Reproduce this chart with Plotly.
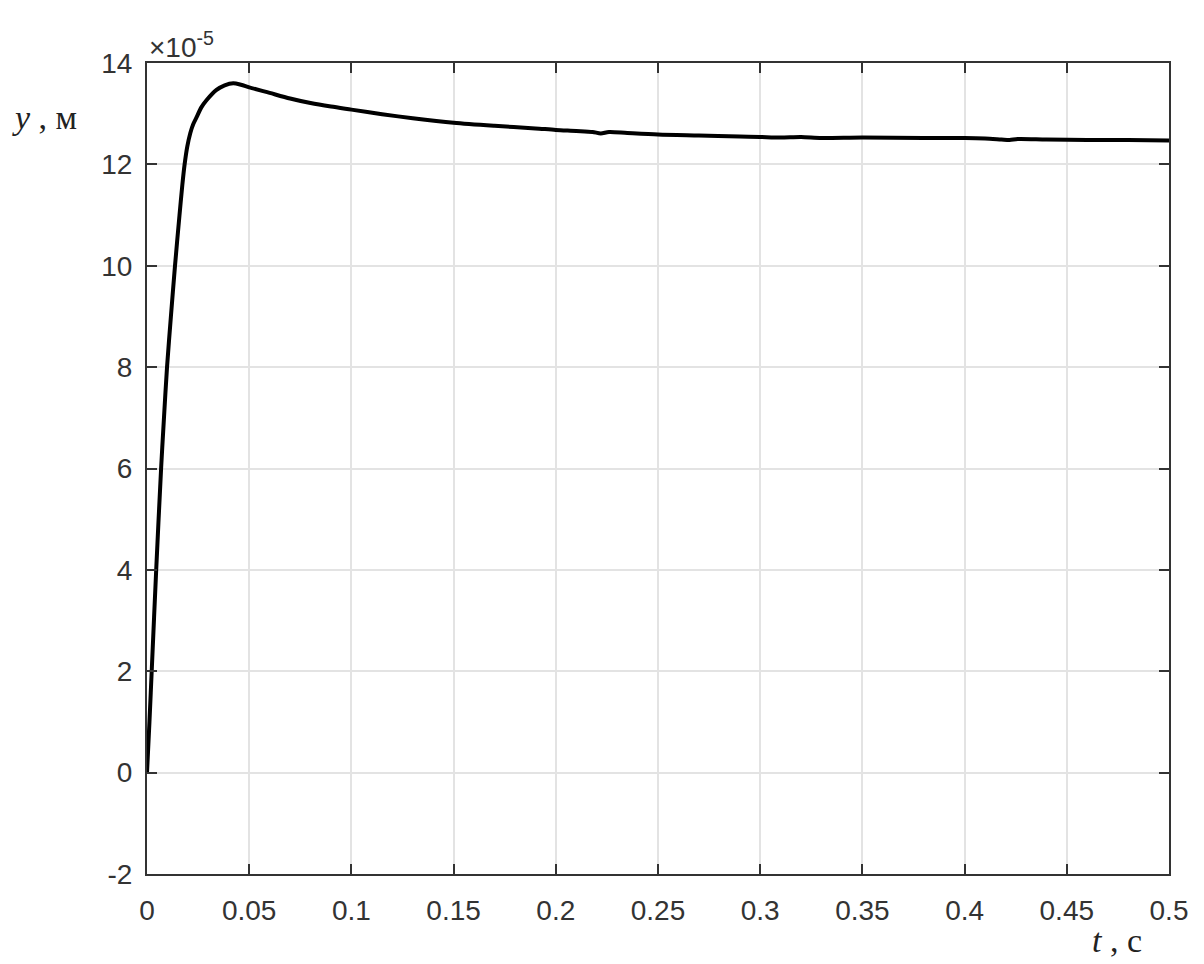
import plotly.graph_objects as go

# time, s
t = [0, 0.0012, 0.0023, 0.0045, 0.0069, 0.0083, 0.0098, 0.0117, 0.0137, 0.0159,
     0.0173, 0.0184, 0.0197, 0.0212, 0.0227, 0.0244, 0.0265, 0.0292, 0.034, 0.038,
     0.0422, 0.046, 0.05, 0.06, 0.07, 0.08, 0.09, 0.1, 0.115, 0.13,
     0.15, 0.17, 0.19, 0.2, 0.21, 0.218, 0.222, 0.226, 0.235, 0.25,
     0.27, 0.29, 0.3, 0.31, 0.32, 0.33, 0.35, 0.38, 0.4, 0.41,
     0.418, 0.422, 0.426, 0.44, 0.46, 0.48, 0.5]
# displacement, x1e-5 m
y = [0, 1.0, 2.0, 4.0, 6.0, 7.0, 8.0, 9.0, 10.0, 11.0,
     11.6, 12.0, 12.35, 12.62, 12.80, 12.94, 13.12, 13.27, 13.47, 13.56,
     13.60, 13.57, 13.52, 13.41, 13.30, 13.21, 13.14, 13.08, 12.99, 12.91,
     12.82, 12.76, 12.71, 12.68, 12.66, 12.64, 12.61, 12.64, 12.62, 12.59,
     12.57, 12.55, 12.54, 12.53, 12.54, 12.52, 12.53, 12.52, 12.52, 12.51,
     12.49, 12.48, 12.50, 12.49, 12.48, 12.48, 12.47]

x_ticks = [0, 0.05, 0.1, 0.15, 0.2, 0.25, 0.3, 0.35, 0.4, 0.45, 0.5]
x_tick_labels = ["0", "0.05", "0.1", "0.15", "0.2", "0.25", "0.3", "0.35", "0.4", "0.45", "0.5"]
y_ticks = [-2, 0, 2, 4, 6, 8, 10, 12, 14]
y_tick_labels = ["-2", "0", "2", "4", "6", "8", "10", "12", "14"]

fig = go.Figure()
fig.add_trace(go.Scatter(x=t, y=y, mode="lines",
                         line=dict(color="black", width=4, shape="spline", smoothing=0.8),
                         showlegend=False, hoverinfo="skip"))

tick_font = dict(family="Liberation Sans, Arial, sans-serif", size=28, color="#333333")
axis_common = dict(showgrid=True, gridcolor="#e3e3e3", gridwidth=1.5,
                   showline=True, linecolor="#333333", linewidth=2, mirror="ticks",
                   ticks="inside", ticklen=10, tickwidth=1.5, tickcolor="#333333",
                   zeroline=False, tickfont=tick_font)

fig.update_xaxes(range=[0, 0.5], tickmode="array", tickvals=x_ticks, ticktext=x_tick_labels,
                 ticklabelstandoff=10, **axis_common)
fig.update_yaxes(range=[-2, 14], tickmode="array", tickvals=y_ticks, ticktext=y_tick_labels,
                 ticklabelstandoff=7, **axis_common)

# page body has an 8px margin, so plot area 147..1169 x 63..874 in the screenshot
fig.update_layout(
    width=1204, height=964,
    margin=dict(l=139, r=43, t=55, b=98),
    plot_bgcolor="white", paper_bgcolor="white",
    annotations=[
        dict(text="×10<sup>-5</sup>", xref="paper", yref="paper", x=0.0, y=1.0,
             xanchor="left", yanchor="bottom", showarrow=False, yshift=-2,
             font=dict(family="Liberation Sans, Arial, sans-serif", size=28, color="#333333")),
        dict(text="<i>y</i> , м", xref="paper", yref="paper", x=-0.134, y=0.933,
             xanchor="left", yanchor="middle", showarrow=False,
             font=dict(family="Liberation Serif, Times New Roman, serif", size=34, color="#222222")),
        dict(text="<i>t</i> , с", xref="paper", yref="paper", x=0.923, y=-0.082,
             xanchor="left", yanchor="middle", showarrow=False,
             font=dict(family="Liberation Serif, Times New Roman, serif", size=34, color="#222222")),
    ],
)

fig.write_html("out.html")
